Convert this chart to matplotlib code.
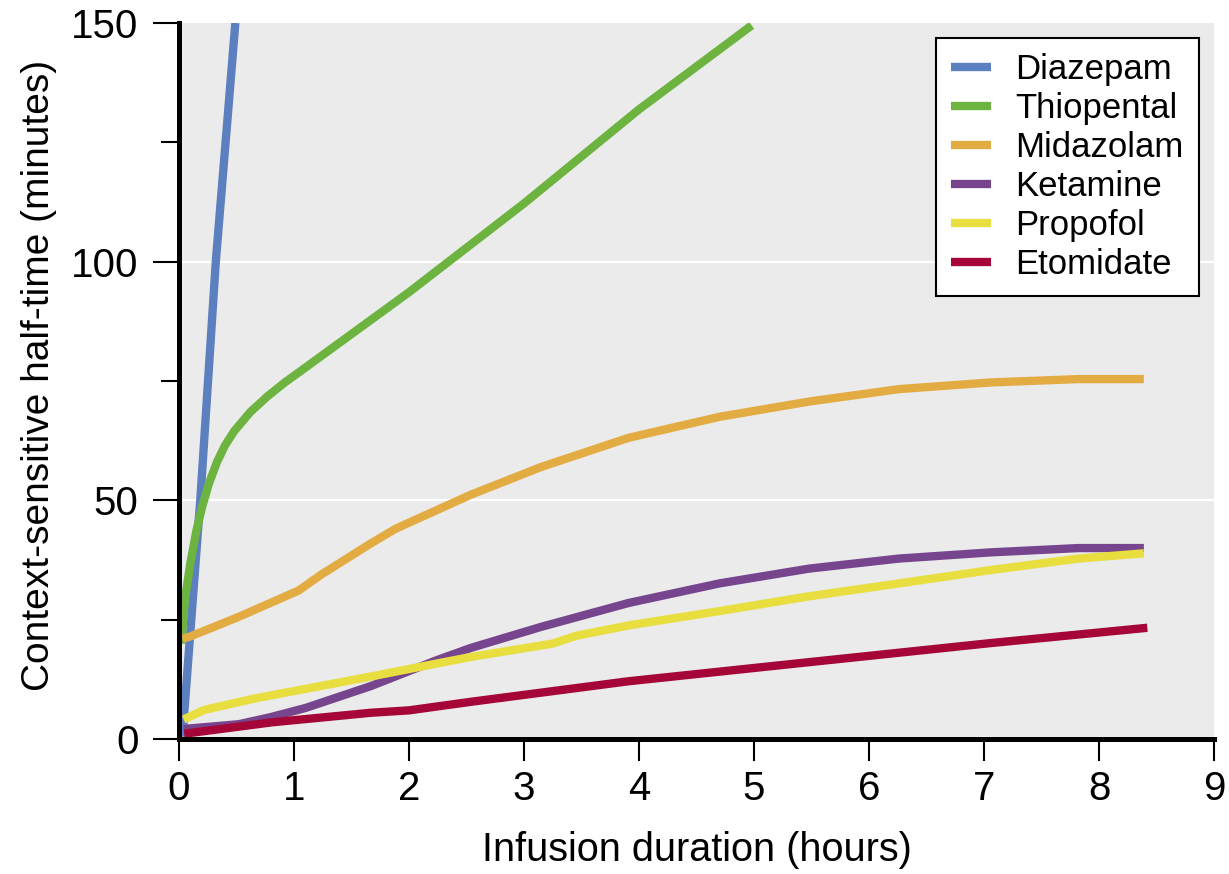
import matplotlib
matplotlib.use("Agg")
import matplotlib.pyplot as plt

plt.rcParams['font.family'] = ['Liberation Sans', 'DejaVu Sans']

# ---- data ----
diazepam_x = [0.03, 0.185, 0.32, 0.49]
diazepam_y = [0.5, 50.0, 100.0, 150.0]

thiopental_x = [0.02, 0.05, 0.10, 0.15, 0.20, 0.26, 0.33, 0.40, 0.48, 0.62, 0.77, 0.92, 1.07, 2.0, 3.0, 4.0, 4.98]
thiopental_y = [20.0, 29.0, 37.0, 43.5, 48.5, 53.5, 58.0, 61.5, 64.5, 68.5, 71.8, 74.7, 77.3, 93.6, 112.2, 131.9, 149.5]

midazolam_x = [0.03, 0.10, 0.51, 1.04, 1.24, 1.67, 1.88, 2.09, 2.54, 3.15, 3.91, 4.70, 5.48, 6.26, 7.06, 7.82, 8.39]
midazolam_y = [21.0, 21.5, 25.5, 31.1, 34.5, 41.0, 44.0, 46.3, 51.2, 57.0, 63.1, 67.5, 70.7, 73.3, 74.7, 75.4, 75.4]

ketamine_x = [0.04, 0.52, 0.80, 1.10, 1.67, 2.24, 2.54, 3.15, 3.91, 4.70, 5.48, 6.26, 7.06, 7.82, 8.39]
ketamine_y = [2.1, 3.1, 4.6, 6.5, 11.1, 16.5, 19.1, 23.5, 28.5, 32.6, 35.7, 37.8, 39.1, 40.0, 40.0]

propofol_x = [0.04, 0.22, 0.66, 1.10, 1.67, 2.24, 2.54, 3.25, 3.45, 3.91, 4.70, 5.48, 6.26, 7.06, 7.82, 8.39]
propofol_y = [4.1, 6.1, 8.5, 10.5, 13.1, 15.8, 17.2, 20.0, 21.6, 23.8, 26.8, 29.9, 32.6, 35.4, 37.8, 38.9]

etomidate_x = [0.045, 0.81, 1.67, 2.0, 2.54, 3.91, 5.48, 7.06, 8.42]
etomidate_y = [1.1, 3.5, 5.5, 6.0, 7.8, 12.1, 16.1, 20.1, 23.3]

names = ['Diazepam', 'Thiopental', 'Midazolam', 'Ketamine', 'Propofol', 'Etomidate']
colors = ['#5B7FBF', '#6CB43F', '#E3AC43', '#76458E', '#E8DE3F', '#A50637']
series = [(diazepam_x, diazepam_y), (thiopental_x, thiopental_y), (midazolam_x, midazolam_y),
          (ketamine_x, ketamine_y), (propofol_x, propofol_y), (etomidate_x, etomidate_y)]

x_ticks = list(range(0, 10))
y_major = [0, 50, 100, 150]
y_minor = [25, 75, 125]

fig = plt.figure(figsize=(12.29, 8.74), dpi=100)
ax = fig.add_axes([179/1229, 1-739/874, (1214-179)/1229, (739-23)/874])
ax.set_facecolor('#EBEBEB')

for (xs, ys), name, c in zip(series, names, colors):
    ax.plot(xs, ys, color=c, lw=6.0, label=name, solid_capstyle='butt', solid_joinstyle='round', zorder=3)

ax.set_xlim(0, 9)
ax.set_ylim(0, 150)
ax.set_xticks(x_ticks)
ax.set_yticks(y_major)
ax.set_yticks(y_minor, minor=True)

for v in [50, 100]:
    ax.axhline(v, color='white', lw=1.6, zorder=1)

for s in ['top', 'right']:
    ax.spines[s].set_visible(False)
for s in ['left', 'bottom']:
    ax.spines[s].set_linewidth(3.6)
    ax.spines[s].set_color('black')
    ax.spines[s].set_zorder(4)

ax.tick_params(axis='y', which='major', length=19, width=1.5, pad=10, labelsize=29, direction='out')
ax.tick_params(axis='y', which='minor', length=13, width=1.5, direction='out')
ax.tick_params(axis='x', which='major', length=16, width=1.5, pad=6, labelsize=29, direction='out')

ax.set_xlabel('Infusion duration (hours)', fontsize=28.5, labelpad=17)
ax.set_ylabel('Context-sensitive half-time (minutes)', fontsize=28)
ax.yaxis.set_label_coords(-0.118, 0.508)

leg = ax.legend(loc='upper right', bbox_to_anchor=(1199/1229, 1-38/874), bbox_transform=fig.transFigure,
                borderaxespad=0, fontsize=25, frameon=True, fancybox=False, handlelength=1.15,
                handletextpad=0.7, labelspacing=0.17, borderpad=0.44)
leg.get_frame().set_edgecolor('black')
leg.get_frame().set_linewidth(1.5)
leg.get_frame().set_facecolor('white')
leg.get_frame().set_alpha(1)

fig.savefig('out.png', dpi=100)
